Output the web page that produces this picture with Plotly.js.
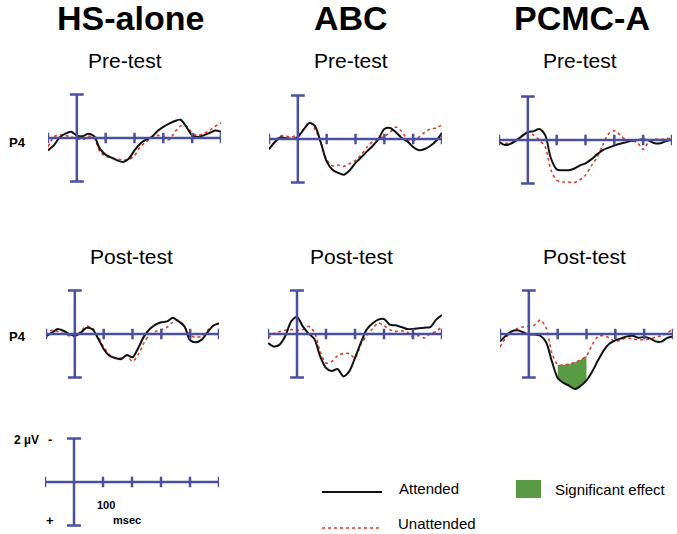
<!DOCTYPE html>
<html><head><meta charset="utf-8">
<script src="https://cdn.plot.ly/plotly-3.0.1.min.js"></script>
<style>html,body{margin:0;padding:0;background:#fff}</style>
</head><body><div id="chart" style="width:677px;height:534px"></div>
<script>
// Time base (ms) and ERP amplitudes at P4 (µV, negative plotted up)
const timeMs = [-100,-80,-60,-40,-20,0,20,40,60,80,100,120,140,160,180,200,220,240,260,280,300,320,340,360,380,400,420,440,460,480,500];

const hsPreAtt  = [0.57,0.34,-0.02,-0.20,-0.29,-0.12,-0.08,-0.20,-0.08,0.49,0.77,0.90,1.03,1.10,0.95,0.57,0.26,0.08,-0.05,-0.32,-0.51,-0.66,-0.78,-0.84,-0.51,-0.12,-0.05,-0.12,-0.23,-0.35,-0.28];
const hsPreUna  = [0.41,-0.05,-0.15,-0.12,-0.05,0.03,0.08,-0.08,-0.02,0.64,0.83,0.92,0.97,1.00,1.00,0.80,0.41,0.18,-0.02,-0.12,-0.08,0.08,-0.28,-0.55,-0.55,-0.23,-0.12,-0.20,-0.35,-0.54,-0.69];
const abcPreAtt = [0.46,0.15,-0.08,-0.03,0.00,-0.09,-0.43,-0.74,-0.58,0.18,1.03,1.41,1.56,1.64,1.44,1.10,0.84,0.57,0.31,0.00,-0.46,-0.51,-0.31,-0.05,0.11,0.37,0.52,0.46,0.31,0.08,-0.28];
const abcPreUna = [0.49,0.11,-0.15,-0.12,-0.09,-0.20,-0.46,-0.77,-0.43,0.18,0.95,1.23,1.20,1.26,1.13,0.98,0.72,0.37,0.11,-0.03,-0.12,-0.31,-0.55,-0.35,0.00,0.09,-0.09,-0.31,-0.46,-0.51,-0.66];
const pcmcPreAtt = [0.08,0.23,0.18,0.02,-0.18,-0.37,-0.40,-0.51,-0.23,0.84,1.35,1.39,1.39,1.32,1.18,1.07,0.89,0.66,0.46,0.35,0.25,0.17,0.11,0.03,0.00,-0.03,0.03,0.15,0.15,0.05,-0.03];
const pcmcPreUna = [0.12,0.15,0.15,0.00,-0.21,-0.32,-0.23,0.00,0.31,1.38,1.84,1.93,1.93,1.96,1.84,1.62,1.20,0.80,0.23,-0.28,-0.43,-0.23,0.00,0.03,0.12,0.43,0.08,-0.03,-0.03,-0.06,-0.09];

const hsPostAtt  = [0.11,-0.05,-0.23,-0.15,0.00,0.08,-0.05,-0.28,-0.23,0.18,0.69,1.00,1.10,1.16,0.97,1.07,0.64,0.11,-0.23,-0.43,-0.54,-0.58,-0.75,-0.58,-0.35,0.29,0.38,0.26,-0.08,-0.38,-0.48];
const hsPostUna  = [0.08,-0.17,-0.12,-0.02,0.08,0.11,-0.12,-0.35,-0.28,0.11,0.60,0.95,1.10,1.10,1.00,1.26,0.95,0.41,0.03,-0.12,-0.20,-0.31,-0.54,-0.63,-0.35,0.08,0.14,0.11,-0.17,-0.38,-0.51];
const abcPostAtt = [0.41,0.57,0.49,0.08,-0.58,-0.78,-0.35,-0.02,0.23,1.03,1.56,1.70,1.61,1.95,1.72,1.10,0.41,-0.20,-0.48,-0.66,-0.69,-0.43,-0.40,-0.32,-0.23,-0.23,-0.26,-0.29,-0.32,-0.66,-0.87];
const abcPostUna = [0.18,-0.02,-0.11,-0.17,-0.20,-0.17,-0.20,-0.35,-0.08,0.80,1.33,1.26,1.00,0.90,0.90,1.10,0.49,0.08,-0.23,-0.51,-0.38,-0.20,-0.12,-0.15,-0.08,0.14,0.08,0.18,-0.02,-0.12,-0.35];
const pcmcPostAtt = [0.34,0.08,-0.12,-0.17,-0.08,0.02,0.02,0.08,0.38,1.26,2.02,2.25,2.38,2.53,2.38,2.13,1.72,1.21,0.75,0.44,0.29,0.20,0.11,0.08,0.17,0.14,0.20,0.34,0.35,0.18,0.11];
const pcmcPostUna = [0.60,0.18,-0.11,-0.25,-0.32,-0.35,-0.41,-0.64,-0.28,0.87,1.41,1.43,1.38,1.30,1.18,1.00,0.49,0.11,0.08,0.18,0.34,0.26,0.18,0.23,0.26,0.26,0.23,0.14,0.08,-0.05,-0.23];

// Significant-effect window (ms), PCMC-A post-test
const sigWindow = [100, 200];
const axisTickMs = [-100, 0, 100, 200, 300, 400, 500];

const groupTitles = ['HS-alone', 'ABC', 'PCMC-A'];
const sessionTitles = ['Pre-test', 'Post-test'];
const legendLabels = ['Attended', 'Unattended', 'Significant effect'];

const W = 677, H = 534, K = 21.75; // px per µV
const BLUE = '#4a4f9f', BLACK = '#111111', RED = '#d8402c', GREEN = '#5a9a44';
const FONT = 'Liberation Sans, Arial, Helvetica, sans-serif';
const px = x => x / W, py = y => 1 - y / H;

const panels = [
  {att: hsPreAtt,  una: hsPreUna,  x0: 48,  x1: 221, yc: 138, half: 3.2},
  {att: abcPreAtt, una: abcPreUna, x0: 269, x1: 442, yc: 139, half: 3.2},
  {att: pcmcPreAtt, una: pcmcPreUna, x0: 499, x1: 672, yc: 140, half: 3.2},
  {att: hsPostAtt, una: hsPostUna, x0: 46,  x1: 219, yc: 334, half: 3.2},
  {att: abcPostAtt, una: abcPostUna, x0: 268, x1: 442, yc: 334, half: 3.2},
  {att: pcmcPostAtt, una: pcmcPostUna, x0: 500, x1: 673, yc: 334, half: 3.2, sig: true},
  {scale: true, x0: 45, x1: 219, yc: 482, half: 2.2}
];

const traces = [], shapes = [], annotations = [];
const layout = {
  width: W, height: H, margin: {l: 0, r: 0, t: 0, b: 0},
  paper_bgcolor: '#ffffff', plot_bgcolor: 'rgba(0,0,0,0)', showlegend: false,
  shapes, annotations
};

panels.forEach((p, i) => {
  const n = i + 1, suf = n === 1 ? '' : String(n);
  const xa = 'x' + suf, ya = 'y' + suf;
  const hp = p.half * K;
  layout['xaxis' + suf] = {domain: [px(p.x0), px(p.x1)], range: [-100, 500], visible: false, fixedrange: true, anchor: ya};
  layout['yaxis' + suf] = {domain: [py(p.yc + hp), py(p.yc - hp)], range: [p.half, -p.half], visible: false, fixedrange: true, anchor: xa};

  const ln = {color: BLUE, width: 2.5};
  shapes.push({type: 'line', xref: xa, yref: ya, x0: -100, x1: 500, y0: 0, y1: 0, line: ln});
  shapes.push({type: 'line', xref: xa, yref: ya, x0: 0, x1: 0, y0: -2, y1: 2, line: ln});
  [-2, 2].forEach(v => shapes.push({type: 'line', xref: xa, yref: ya, x0: -24, x1: 24, y0: v, y1: v, line: ln}));
  axisTickMs.filter(t => t !== 0).forEach(t =>
    shapes.push({type: 'line', xref: xa, yref: ya, x0: t, x1: t, y0: -0.24, y1: 0.24, line: ln}));

  if (p.scale) return;

  if (p.sig) {
    const idx = timeMs.map((t, k) => k).filter(k => timeMs[k] >= sigWindow[0] && timeMs[k] <= sigWindow[1]);
    traces.push({x: idx.map(k => timeMs[k]), y: idx.map(k => p.una[k]), xaxis: xa, yaxis: ya, type: 'scatter', mode: 'lines',
      line: {width: 0, shape: 'spline', smoothing: 0.8}, hoverinfo: 'skip'});
    traces.push({x: idx.map(k => timeMs[k]), y: idx.map(k => p.att[k]), xaxis: xa, yaxis: ya, type: 'scatter', mode: 'lines',
      line: {width: 0, shape: 'spline', smoothing: 0.8}, fill: 'tonexty', fillcolor: GREEN, hoverinfo: 'skip'});
  }
  traces.push({x: timeMs, y: p.una, xaxis: xa, yaxis: ya, type: 'scatter', mode: 'lines', name: 'Unattended',
    line: {color: RED, width: 1.6, dash: 'dot', shape: 'spline', smoothing: 0.8}});
  traces.push({x: timeMs, y: p.att, xaxis: xa, yaxis: ya, type: 'scatter', mode: 'lines', name: 'Attended',
    line: {color: BLACK, width: 2, shape: 'spline', smoothing: 0.8}});
});

function ann(text, x, y, size, opts) {
  annotations.push(Object.assign({text, x: px(x), y: py(y), xref: 'paper', yref: 'paper', showarrow: false,
    xanchor: 'center', yanchor: 'middle', font: {family: FONT, size, color: '#000'}}, opts || {}));
}
const boldFont = (s) => ({font: {family: FONT, size: s, color: '#000', weight: 700}});

// Group titles
[[130, 18], [351, 18], [582, 18]].forEach((c, i) => ann(groupTitles[i], c[0], c[1], 34, boldFont(34)));
// Session titles
[[125, 61], [351, 61], [580, 61]].forEach(c => ann(sessionTitles[0], c[0], c[1], 21));
[[131, 256], [351, 256], [584, 256]].forEach(c => ann(sessionTitles[1], c[0], c[1], 21));
// Electrode labels
ann('P4', 7, 142, 13, Object.assign({xanchor: 'left'}, boldFont(13)));
ann('P4', 7, 336, 13, Object.assign({xanchor: 'left'}, boldFont(13)));
// Scale bar labels
ann('2 µV', 12, 440, 12, Object.assign({xanchor: 'left'}, boldFont(12)));
ann('-', 50, 439, 13, boldFont(13));
ann('+', 50, 520, 13, boldFont(13));
ann('100', 106, 505, 11, boldFont(11));
ann('msec', 127, 520, 11, boldFont(11));

// Legend
shapes.push({type: 'line', xref: 'paper', yref: 'paper', x0: px(322), x1: px(382), y0: py(492), y1: py(492), line: {color: BLACK, width: 2}});
shapes.push({type: 'line', xref: 'paper', yref: 'paper', x0: px(322), x1: px(382), y0: py(528), y1: py(528), line: {color: RED, width: 1.6, dash: 'dot'}});
shapes.push({type: 'rect', xref: 'paper', yref: 'paper', x0: px(516), x1: px(541), y0: py(498), y1: py(480), fillcolor: GREEN, line: {width: 0}});
ann(legendLabels[0], 397, 488, 15, {xanchor: 'left'});
ann(legendLabels[1], 397, 523, 15, {xanchor: 'left', borderpad: 0});
ann(legendLabels[2], 553, 489, 15, {xanchor: 'left'});

Plotly.newPlot('chart', traces, layout, {displayModeBar: false, staticPlot: true});
</script></body></html>
